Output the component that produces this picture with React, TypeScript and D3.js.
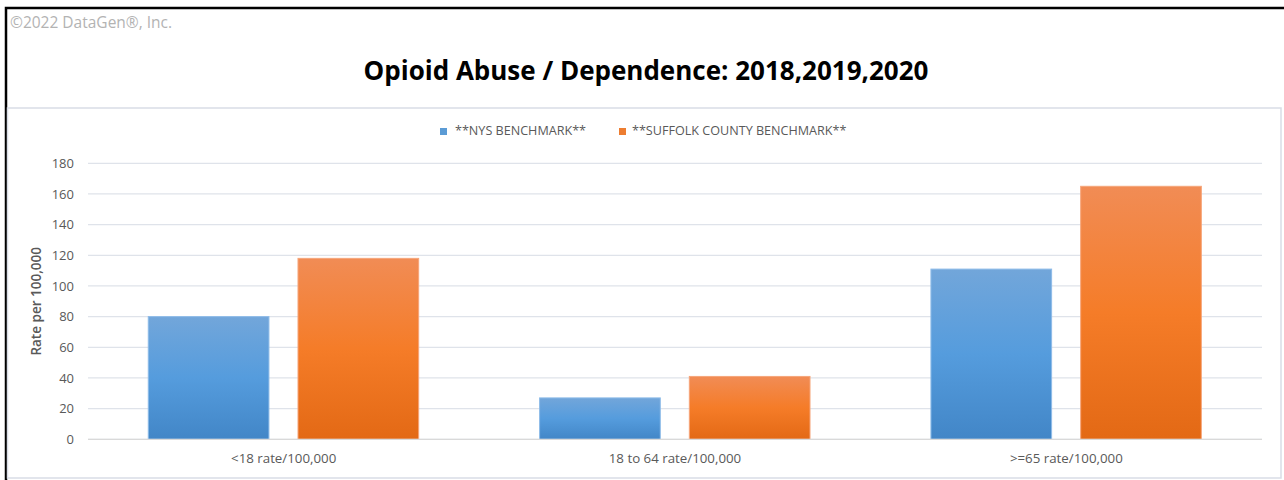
import React from "react";
import * as d3 from "d3";

const categories = ["<18 rate/100,000", "18 to 64 rate/100,000", ">=65 rate/100,000"];
const seriesNames = ["**NYS BENCHMARK**", "**SUFFOLK COUNTY BENCHMARK**"];
const nysValues = [80, 27, 111];
const suffolkValues = [118, 41, 165];
const yTicks = [0, 20, 40, 60, 80, 100, 120, 140, 160, 180];

const W = 1284;
const H = 480;
const FONT = "'Open Sans', 'Liberation Sans', Arial, sans-serif";
const AXIS_COLOR = "#595959";

export default function App() {
  const plotLeft = 88;
  const plotRight = 1262;
  const plotTop = 163.3;
  const plotBottom = 439.3;

  const y = d3.scaleLinear().domain([0, 180]).range([plotBottom, plotTop]);
  const x0 = d3.scaleBand<string>().domain(categories).range([plotLeft, plotRight]).padding(0);
  const bw = x0.bandwidth();
  const x1 = d3
    .scaleBand<string>()
    .domain(seriesNames)
    .range([bw * 0.154, bw * 0.845])
    .paddingInner(0.194)
    .paddingOuter(0);

  const seriesValues = [nysValues, suffolkValues];
  const gradIds = ["gradBlue", "gradOrange"];
  const edgeColors = ["#8dbbe8", "#f6a57a"];
  const legendColors = ["#5b9bd5", "#ed7d31"];

  return (
    <div style={{ position: "absolute", left: 0, top: 0 }}>
      <svg width={W} height={H} style={{ display: "block", background: "#fff" }}>
        <defs>
          <linearGradient id="gradBlue" x1="0" y1="0" x2="0" y2="1">
            <stop offset="0%" stopColor="#72a6da" />
            <stop offset="50%" stopColor="#559cdd" />
            <stop offset="100%" stopColor="#4286c7" />
          </linearGradient>
          <linearGradient id="gradOrange" x1="0" y1="0" x2="0" y2="1">
            <stop offset="0%" stopColor="#f18c55" />
            <stop offset="50%" stopColor="#f57c28" />
            <stop offset="100%" stopColor="#e36915" />
          </linearGradient>
        </defs>

        {/* outer frame */}
        <rect x={6} y={8} width={W + 20} height={H + 20} fill="none" stroke="#000" strokeWidth={2.5} />
        <text x={10} y={27.5} fontFamily={FONT} fontSize={15.5} fill="#b3b3b3">
          ©2022 DataGen®, Inc.
        </text>

        {/* title */}
        <text
          x={646}
          y={79.5}
          textAnchor="middle"
          fontFamily={FONT}
          fontSize={26}
          fontWeight="bold"
          fill="#000"
        >
          Opioid Abuse / Dependence: 2018,2019,2020
        </text>

        {/* chart area box */}
        <rect x={7.5} y={108} width={1273.5} height={370} fill="none" stroke="#d9dde6" strokeWidth={1.5} />

        {/* legend */}
        <g fontFamily={FONT} fontSize={12.6} fill={AXIS_COLOR}>
          <rect x={440} y={128} width={7} height={7} fill={legendColors[0]} />
          <text x={455} y={135}>{seriesNames[0]}</text>
          <rect x={619} y={128} width={7} height={7} fill={legendColors[1]} />
          <text x={632} y={135}>{seriesNames[1]}</text>
        </g>

        {/* gridlines */}
        {yTicks.map((t) => (
          <line key={t} x1={plotLeft} x2={plotRight} y1={y(t)} y2={y(t)} stroke="#dfe3ea" strokeWidth={1.2} />
        ))}

        {/* y tick labels */}
        <g fontFamily={FONT} fontSize={13} fill={AXIS_COLOR}>
          {yTicks.map((t) => (
            <text key={t} x={74} y={y(t)} dy="0.35em" textAnchor="end">
              {t}
            </text>
          ))}
        </g>

        {/* y axis title */}
        <text
          transform={`translate(41,${(plotTop + plotBottom) / 2}) rotate(-90)`}
          textAnchor="middle"
          fontFamily={FONT}
          fontSize={13.5}
          fontWeight={600}
          fill={AXIS_COLOR}
        >
          Rate per 100,000
        </text>

        {/* bars */}
        {categories.map((c, ci) => (
          <g key={c} transform={`translate(${x0(c)},0)`}>
            {seriesNames.map((s, si) => {
              const v = seriesValues[si][ci];
              return (
                <rect
                  key={s}
                  x={x1(s)}
                  y={y(v)}
                  width={x1.bandwidth()}
                  height={y(0) - y(v)}
                  fill={`url(#${gradIds[si]})`}
                  stroke={edgeColors[si]}
                  strokeWidth={1}
                />
              );
            })}
          </g>
        ))}

        {/* baseline */}
        <line x1={plotLeft} x2={plotRight} y1={y(0)} y2={y(0)} stroke="#d9d9d9" strokeWidth={1.2} />

        {/* category labels */}
        <g fontFamily={FONT} fontSize={13.3} fill={AXIS_COLOR}>
          {categories.map((c) => (
            <text key={c} x={(x0(c) as number) + bw / 2} y={463} textAnchor="middle">
              {c}
            </text>
          ))}
        </g>
      </svg>
    </div>
  );
}
